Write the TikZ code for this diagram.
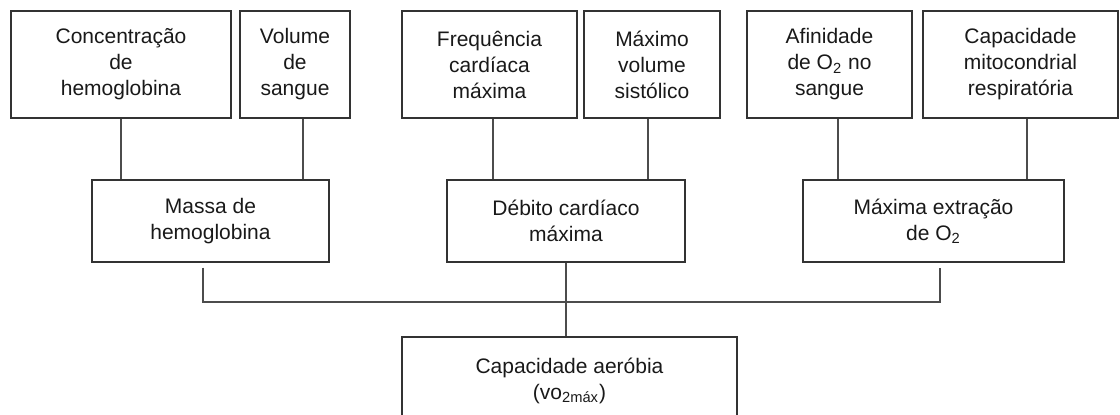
\documentclass[tikz,border=0pt]{standalone}
\usepackage{fontspec}
\setmainfont{Liberation Sans}
\begin{document}
\begin{tikzpicture}[x=0.5pt, y=-0.5pt,
    mybox/.style={draw=black!80, line width=0.7pt, align=center, inner sep=0pt,
      text=black!90, font=\fontsize{10.5}{13}\selectfont},
    toprow/.style={mybox, minimum height=53.5pt},
    midrow/.style={mybox, minimum height=41pt},
    mylink/.style={draw=black!70, line width=0.7pt}]
  \useasboundingbox (0,0) rectangle (1120,414);
  % first row
  \node[toprow, minimum width=110pt] (conc) at (121,64.5) {Concentração\\de\\hemoglobina};
  \node[toprow, minimum width=55pt] (vol) at (295,64.5) {Volume\\de\\sangue};
  \node[toprow, minimum width=87.5pt] (freq) at (489.5,64.5) {Frequência\\cardíaca\\máxima};
  \node[toprow, minimum width=68pt] (sist) at (652,64.5) {Máximo\\volume\\sistólico};
  \node[toprow, minimum width=82.5pt] (afin) at (829.5,64.5) {Afinidade\\de O\textsubscript{2} no\\sangue};
  \node[toprow, minimum width=97.5pt] (mito) at (1020.5,64.5) {Capacidade\\mitocondrial\\respiratória};
  % second row
  \node[midrow, minimum width=118.5pt] (massa) at (210.5,221) {Massa de\\hemoglobina};
  \node[midrow, minimum width=119pt] (debito) at (566,221) {Débito cardíaco\\máxima};
  \node[midrow, minimum width=130.5pt] (extr) at (933.5,221) {Máxima extração\\de O\textsubscript{2}};
  % result, cut by the page
  \node[mybox, minimum width=167.5pt, minimum height=44pt] (vo2) at (569.5,381)
    {Capacidade aeróbia\\(vo\textsubscript{2máx})};
  \coordinate (bus) at (566,302);
  % links
  \draw[mylink] (conc.south) -- (conc.south |- massa.north);
  \draw[mylink] ([xshift=4pt]vol.south) -- ([xshift=4pt]vol.south |- massa.north);
  \draw[mylink] ([xshift=1.75pt]freq.south) -- ([xshift=1.75pt]freq.south |- debito.north);
  \draw[mylink] ([xshift=-2pt]sist.south) -- ([xshift=-2pt]sist.south |- debito.north);
  \draw[mylink] ([xshift=4.25pt]afin.south) -- ([xshift=4.25pt]afin.south |- extr.north);
  \draw[mylink] ([xshift=3.25pt]mito.south) -- ([xshift=3.25pt]mito.south |- extr.north);
  \draw[mylink] ([xshift=-3.75pt,yshift=-2.5pt]massa.south) |- (bus)
    -| ([xshift=3.25pt,yshift=-2.5pt]extr.south);
  \draw[mylink] (debito.south) -- (debito.south |- vo2.north);
\end{tikzpicture}
\end{document}
